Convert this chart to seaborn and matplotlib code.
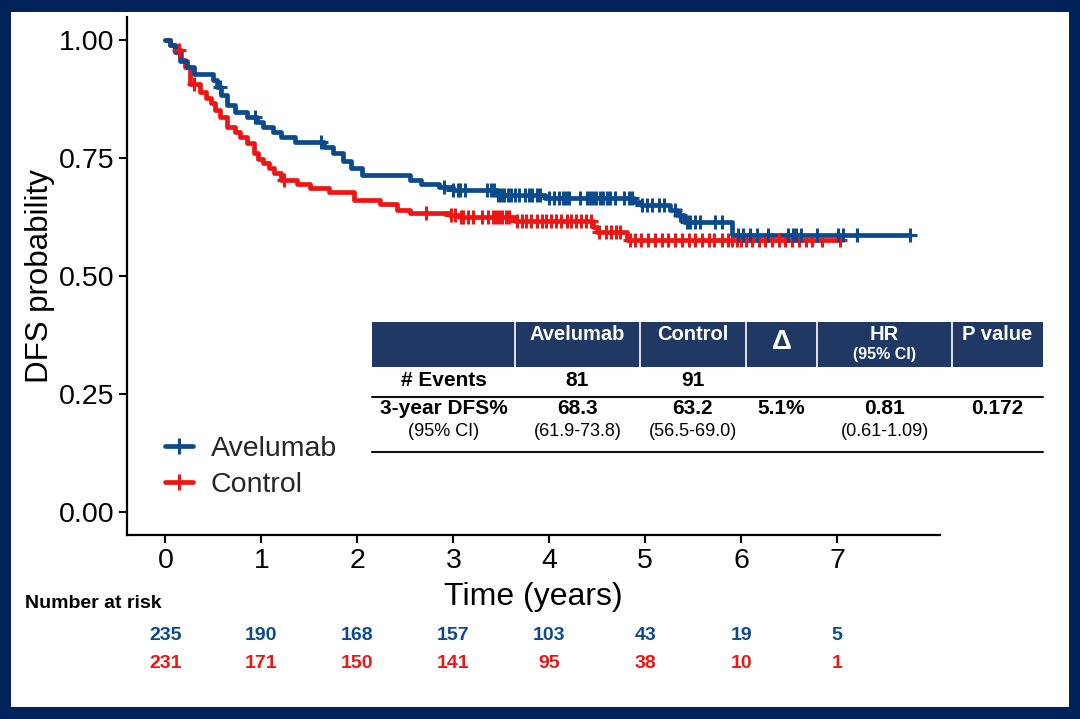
import numpy as np
import pandas as pd
import seaborn as sns
import matplotlib.pyplot as plt
from matplotlib.patches import Rectangle
from matplotlib.lines import Line2D
from matplotlib.transforms import blended_transform_factory

# Kaplan-Meier steps (time in years, survival after the drop)
ave_time = [0.0, 0.05, 0.10, 0.15, 0.22, 0.30, 0.50, 0.54, 0.58, 0.64, 0.72, 0.85,
            0.95, 1.02, 1.12, 1.20, 1.35, 1.65, 1.75, 1.85, 1.93, 2.05, 2.55, 2.66,
            2.85, 3.00, 3.45, 3.95, 4.88, 4.95, 5.26, 5.33, 5.40, 5.90]
ave_surv = [1.0, 0.99, 0.975, 0.955, 0.943, 0.929, 0.915, 0.901, 0.883, 0.862, 0.848, 0.838,
            0.826, 0.816, 0.805, 0.795, 0.785, 0.774, 0.760, 0.743, 0.728, 0.714, 0.704, 0.696,
            0.689, 0.682, 0.672, 0.665, 0.657, 0.650, 0.640, 0.629, 0.615, 0.587]
ave_last = 7.76
ave_cens = [0.57, 0.93, 1.62, 2.90, 3.00, 3.05, 3.07, 3.12, 3.35, 3.39, 3.42, 3.47, 3.50,
            3.53, 3.57, 3.60, 3.64, 3.68, 3.75, 3.79, 3.82, 3.87, 3.90, 4.00, 4.05, 4.10,
            4.14, 4.17, 4.21, 4.32, 4.39, 4.42, 4.46, 4.49, 4.53, 4.56, 4.60, 4.63, 4.68,
            4.78, 4.83, 4.86, 4.97, 5.02, 5.07, 5.14, 5.19, 5.31, 5.36, 5.43, 5.47, 5.52,
            5.57, 5.73, 5.80, 5.97, 6.02, 6.09, 6.16, 6.28, 6.49, 6.54, 6.57, 6.62, 6.79,
            7.01, 7.06, 7.21, 7.76]

ctl_time = [0.0, 0.05, 0.10, 0.16, 0.20, 0.26, 0.36, 0.42, 0.47, 0.52, 0.57, 0.64, 0.72,
            0.78, 0.85, 0.92, 0.96, 1.02, 1.08, 1.13, 1.20, 1.37, 1.51, 1.70, 1.96, 2.24,
            2.41, 2.55, 2.97, 3.07, 3.64, 4.46, 4.50, 4.81]
ctl_surv = [1.0, 0.99, 0.978, 0.958, 0.943, 0.908, 0.890, 0.878, 0.866, 0.852, 0.837, 0.816, 0.805,
            0.795, 0.781, 0.760, 0.748, 0.739, 0.728, 0.718, 0.703, 0.696, 0.686, 0.679, 0.661, 0.653,
            0.640, 0.634, 0.629, 0.626, 0.616, 0.604, 0.594, 0.576]
ctl_last = 7.03
ctl_cens = [0.14, 0.30, 1.24, 2.72, 2.98, 3.02, 3.08, 3.10, 3.15, 3.20, 3.30, 3.36, 3.41,
            3.44, 3.48, 3.51, 3.55, 3.58, 3.66, 3.71, 3.76, 3.81, 3.87, 3.92, 3.97, 4.02,
            4.07, 4.12, 4.18, 4.23, 4.28, 4.33, 4.38, 4.43, 4.52, 4.59, 4.64, 4.69, 4.74,
            4.84, 4.89, 4.96, 5.03, 5.10, 5.17, 5.24, 5.31, 5.38, 5.45, 5.52, 5.59, 5.66,
            5.72, 5.80, 5.86, 5.90, 5.95, 6.00, 6.05, 6.11, 6.18, 6.25, 6.32, 6.39, 6.46,
            6.53, 6.60, 6.67, 6.74, 6.84, 7.03]

arms = ['Avelumab', 'Control']
arm_colors = ['#0b4a8f', '#ef1515']

risk_years = [0, 1, 2, 3, 4, 5, 6, 7]
ave_risk = [235, 190, 168, 157, 103, 43, 19, 5]
ctl_risk = [231, 171, 150, 141, 95, 38, 10, 1]

# summary table
tbl_head = ['', 'Avelumab', 'Control', 'Δ', 'HR', 'P value']
tbl_events = ['# Events', '81', '91', '', '', '']
tbl_dfs = ['3-year DFS%', '68.3', '63.2', '5.1%', '0.81', '0.172']
tbl_ci = ['(95% CI)', '(61.9-73.8)', '(56.5-69.0)', '', '(0.61-1.09)', '']

sns.set_theme(style='ticks')
plt.rcParams['font.family'] = ['Liberation Sans', 'DejaVu Sans']

W, H = 1080, 719
fig = plt.figure(figsize=(W / 100, H / 100), dpi=100)
fig.patch.set_facecolor('#00245a')


def fx(x):
    return x / W


def fy(y):
    return 1 - y / H


fig.patches.append(Rectangle((fx(11), fy(707)), (1069 - 11) / W, (707 - 12) / H,
                             transform=fig.transFigure, facecolor='white',
                             edgecolor='none', zorder=-1))

ax = fig.add_axes([fx(127), fy(535), (940 - 127) / W, (535 - 17) / H])
ax.set_facecolor('none')

rows = []
for arm, t, s, last in [('Avelumab', ave_time, ave_surv, ave_last),
                        ('Control', ctl_time, ctl_surv, ctl_last)]:
    for ti, si in zip(t + [last], s + [s[-1]]):
        rows.append({'time': ti, 'surv': si, 'arm': arm})
df = pd.DataFrame(rows)

sns.lineplot(data=df, x='time', y='surv', hue='arm', hue_order=arms[::-1],
             palette=dict(zip(arms, arm_colors)), drawstyle='steps-post',
             estimator=None, sort=False, lw=3.4, legend=False, ax=ax)

for t, s, cens, col in [(ctl_time, ctl_surv, ctl_cens, arm_colors[1]),
                        (ave_time, ave_surv, ave_cens, arm_colors[0])]:
    idx = np.searchsorted(t, cens, side='right') - 1
    ax.plot(cens, np.array(s)[idx], ls='none', marker='+', ms=10.5, mew=2.2, color=col)

ax.set_xlim(-0.4, 8.07)
ax.set_ylim(-0.049, 1.049)
ax.set_xticks(risk_years)
ax.set_yticks([0, 0.25, 0.5, 0.75, 1.0])
ax.set_yticklabels(['0.00', '0.25', '0.50', '0.75', '1.00'])
sns.despine(ax=ax)
for sp in ['left', 'bottom']:
    ax.spines[sp].set_linewidth(1.6)
    ax.spines[sp].set_color('black')
ax.tick_params(length=6, width=1.5, color='black', labelsize=20.5, labelcolor='black', pad=3)
ax.set_xlabel('Time (years)', fontsize=23, color='black', labelpad=6)
ax.set_ylabel('DFS probability', fontsize=22.5, color='black', labelpad=3)

handles = [Line2D([], [], color=c, lw=3.4, marker='+', ms=11, mew=2.2) for c in arm_colors]
ax.legend(handles, arms, loc='upper left', bbox_to_anchor=(fx(165), fy(436)),
          bbox_transform=fig.transFigure, frameon=False, fontsize=20.5,
          handlelength=1.0, handletextpad=0.6, labelspacing=0.36,
          borderpad=0, borderaxespad=0)

# number at risk
trans = blended_transform_factory(ax.transData, fig.transFigure)
fig.text(fx(25), fy(604), 'Number at risk', fontsize=14, fontweight='bold',
         ha='left', va='center', color='black')
for yr, a, c in zip(risk_years, ave_risk, ctl_risk):
    ax.text(yr, fy(636), str(a), transform=trans, ha='center', va='center',
            fontsize=14, fontweight='bold', color=arm_colors[0], clip_on=False)
    ax.text(yr, fy(664), str(c), transform=trans, ha='center', va='center',
            fontsize=14, fontweight='bold', color=arm_colors[1], clip_on=False)

# table
col_edges = [372, 515, 640, 746, 817, 952, 1043]
col_mid = [(a + b) / 2 for a, b in zip(col_edges[:-1], col_edges[1:])]
fig.patches.append(Rectangle((fx(372), fy(367)), (1043 - 372) / W, (367 - 322) / H,
                             transform=fig.transFigure, facecolor='#1f3864',
                             edgecolor='none', zorder=2))
for xe in col_edges[1:-1]:
    fig.lines.append(Line2D([fx(xe), fx(xe)], [fy(322), fy(367)], color='white',
                            lw=1.2, transform=fig.transFigure, zorder=3))
for yl in [397, 452]:
    fig.lines.append(Line2D([fx(372), fx(1043)], [fy(yl), fy(yl)], color='#111111',
                            lw=1.5, transform=fig.transFigure, zorder=3))

for i, txt in enumerate(tbl_head):
    if txt == 'Δ':
        fig.text(fx(col_mid[i]), fy(342), txt, fontsize=20, fontweight='bold',
                 color='white', ha='center', va='center')
    elif txt == 'HR':
        fig.text(fx(col_mid[i]), fy(334), txt, fontsize=14.5, fontweight='bold',
                 color='white', ha='center', va='center')
        fig.text(fx(col_mid[i]), fy(355), '(95% CI)', fontsize=11.5, fontweight='bold',
                 color='white', ha='center', va='center')
    elif txt:
        fig.text(fx(col_mid[i]), fy(335), txt, fontsize=14.5, fontweight='bold',
                 color='white', ha='center', va='center')

for i in range(6):
    fig.text(fx(col_mid[i]), fy(381), tbl_events[i], fontsize=15, fontweight='bold',
             color='black', ha='center', va='center')
    fig.text(fx(col_mid[i]), fy(409), tbl_dfs[i], fontsize=15, fontweight='bold',
             color='black', ha='center', va='center')
    fig.text(fx(col_mid[i]), fy(432), tbl_ci[i], fontsize=13,
             color='black', ha='center', va='center')

fig.savefig('out.png', dpi=100, facecolor=fig.get_facecolor())
